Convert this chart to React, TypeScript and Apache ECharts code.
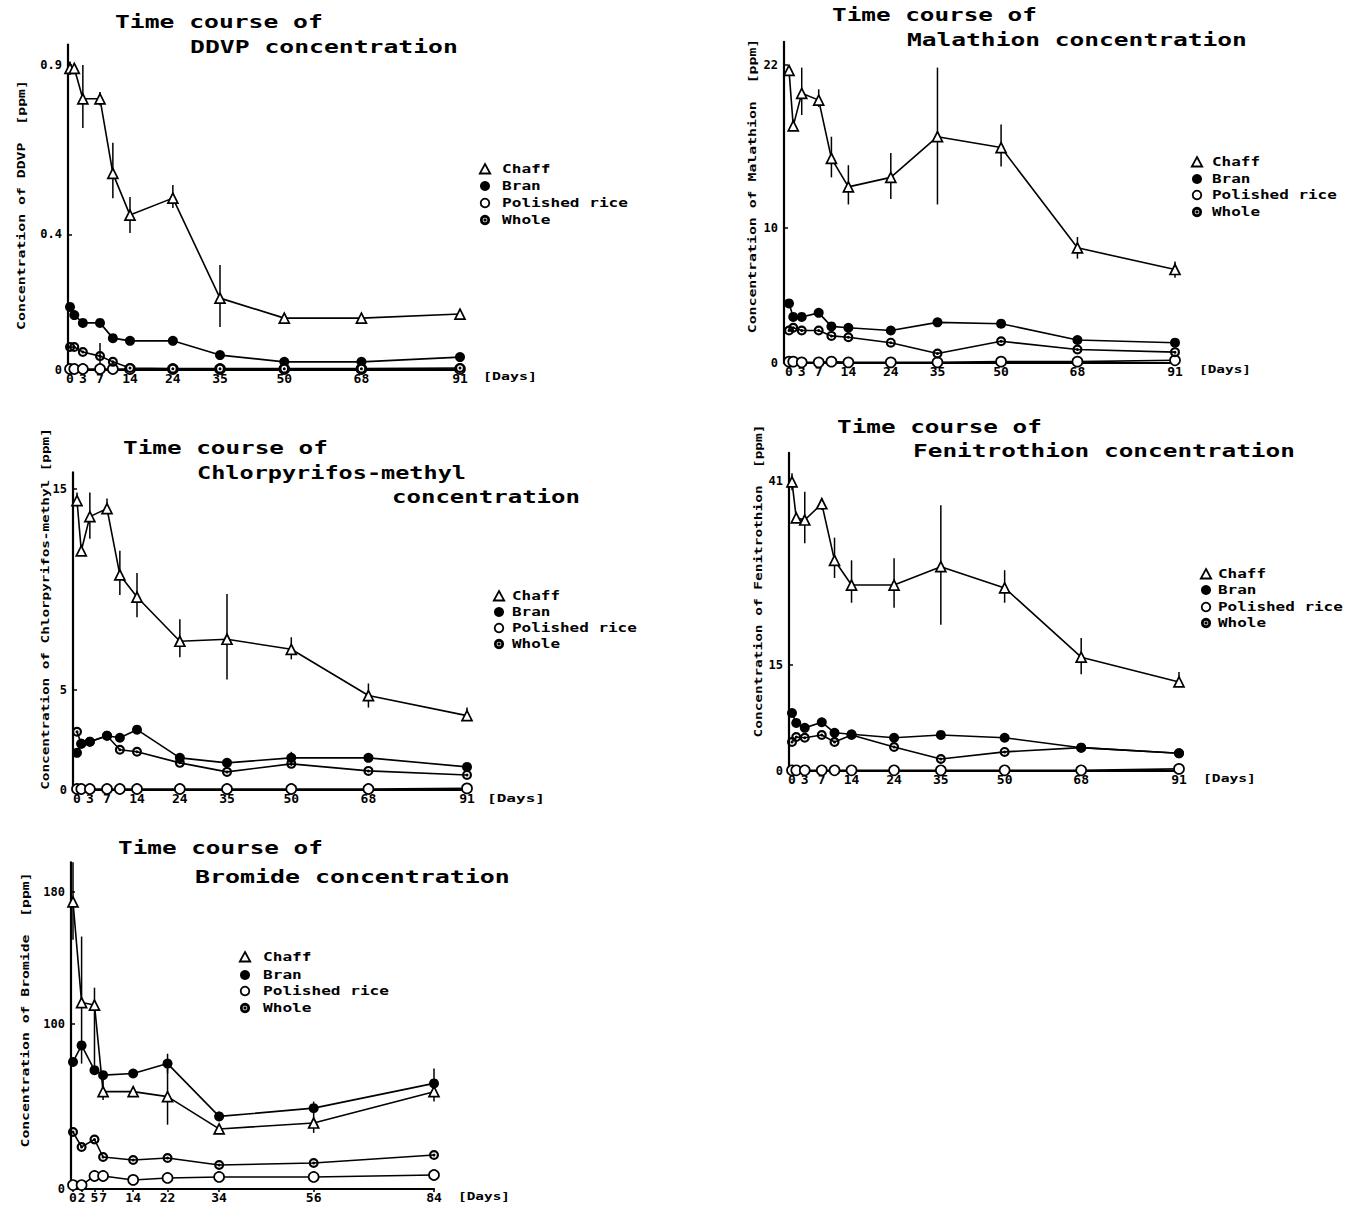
import React, { useEffect, useRef } from "react";
import * as echarts from "echarts";

// ---------------- data ----------------
const DAYS = [0, 1, 3, 7, 10, 14, 24, 35, 50, 68, 91];
const BROMIDE_DAYS = [0, 2, 5, 7, 14, 22, 34, 56, 84];
const DAY_TICKS = [0, 3, 7, 14, 24, 35, 50, 68, 91];
const BROMIDE_DAY_TICKS = [0, 2, 5, 7, 14, 22, 34, 56, 84];

// DDVP
const ddvpChaff = [0.89, 0.89, 0.8, 0.8, 0.58, 0.457, 0.507, 0.212, 0.153, 0.153, 0.165];
const ddvpBran = [0.186, 0.162, 0.139, 0.139, 0.094, 0.086, 0.086, 0.044, 0.024, 0.024, 0.038];
const ddvpPolished = [0.003, 0.003, 0.003, 0.003, 0.003, 0.003, 0.003, 0.003, 0.003, 0.003, 0.003];
const ddvpWhole = [0.068, 0.068, 0.053, 0.041, 0.024, 0.006, 0.004, 0.004, 0.004, 0.004, 0.006];
const ddvpChaffErr = [[0, 0.87, 0.91], [3, 0.714, 0.9], [7, 0.78, 0.82], [10, 0.507, 0.67], [14, 0.404, 0.51], [24, 0.478, 0.546], [35, 0.127, 0.31]];
const ddvpWholeErr = [[7, 0.006, 0.08]];
const ddvpYTicks = [0, 0.4, 0.9];

// Malathion
const malChaff = [21.6, 17.5, 19.9, 19.4, 15.1, 13.0, 13.7, 16.7, 15.9, 8.5, 6.9];
const malBran = [4.4, 3.4, 3.4, 3.7, 2.7, 2.6, 2.4, 3.0, 2.9, 1.7, 1.5];
const malPolished = [0.1, 0.1, 0.05, 0.05, 0.1, 0.05, 0.05, 0.05, 0.1, 0.1, 0.2];
const malWhole = [2.4, 2.6, 2.4, 2.4, 2.0, 1.9, 1.5, 0.7, 1.6, 1.0, 0.8];
const malChaffErr = [[3, 18.3, 21.8], [7, 18.9, 20.2], [10, 13.7, 16.7], [14, 11.7, 14.6], [24, 12.1, 15.5], [35, 11.7, 21.8], [50, 14.5, 17.6], [68, 7.7, 9.3], [91, 6.3, 7.5]];
const malYTicks = [0, 10, 22];

// Chlorpyrifos-methyl
const cpmChaff = [14.4, 11.9, 13.6, 14.0, 10.7, 9.6, 7.4, 7.5, 7.0, 4.7, 3.7];
const cpmBran = [1.85, 2.3, 2.4, 2.7, 2.6, 3.0, 1.6, 1.35, 1.6, 1.6, 1.15];
const cpmPolished = [0.05, 0.05, 0.05, 0.05, 0.05, 0.05, 0.05, 0.05, 0.05, 0.05, 0.08];
const cpmWhole = [2.9, 2.3, 2.4, 2.7, 2.0, 1.9, 1.35, 0.9, 1.3, 0.95, 0.75];
const cpmChaffErr = [[0, 14.1, 14.8], [3, 12.5, 14.8], [7, 13.9, 14.5], [10, 9.7, 11.9], [14, 8.6, 10.8], [24, 6.6, 8.5], [35, 5.5, 9.75], [50, 6.5, 7.6], [68, 4.1, 5.3], [91, 3.5, 4.1]];
const cpmBranErr = [[50, 1.2, 1.9]];
const cpmYTicks = [0, 5, 15];

// Fenitrothion
const fenChaff = [40.9, 35.8, 35.5, 37.8, 29.8, 26.3, 26.3, 28.9, 25.9, 16.1, 12.6];
const fenBran = [8.2, 6.8, 6.1, 6.9, 5.4, 5.2, 4.7, 5.1, 4.7, 3.3, 2.5];
const fenPolished = [0.1, 0.1, 0.1, 0.1, 0.1, 0.1, 0.1, 0.1, 0.1, 0.1, 0.3];
const fenWhole = [4.1, 4.8, 4.7, 5.1, 4.1, 5.1, 3.4, 1.7, 2.7, 3.3, 2.5];
const fenChaffErr = [[0, 39.7, 42.1], [3, 32.2, 39.5], [7, 36.9, 38.6], [10, 27.3, 33.0], [14, 23.8, 29.8], [24, 23.1, 30.1], [35, 20.7, 37.6], [50, 23.8, 28.4], [68, 13.7, 18.8], [91, 11.9, 14.0]];
const fenYTicks = [0, 15, 41];

// Bromide
const brChaff = [174, 113, 111.5, 59, 59, 56, 36.4, 40, 59];
const brBran = [77, 87, 72, 69, 70, 76, 44, 49, 64];
const brPolished = [2.4, 2.4, 7.9, 7.9, 5.5, 6.7, 7.3, 7.3, 8.5];
const brWhole = [34.5, 25.5, 30, 19.4, 17.6, 18.8, 14.5, 15.8, 20.6];
const brChaffErr = [[0, 151, 198], [2, 76, 153], [5, 70, 122], [7, 54, 71], [22, 39, 78], [56, 34, 53], [84, 53, 73]];
const brBranErr = [[22, 70, 82], [34, 42, 47]];
const brYTicks = [0, 100, 180];

const LEGEND_NAMES = ["Chaff", "Bran", "Polished rice", "Whole"];

// ---------------- layout ----------------
const MONO = '"DejaVu Sans Mono", monospace';
const WHOLE_SYMBOL =
  "path://M0,-10A10,10,0,1,1,0,10A10,10,0,1,1,0,-10ZM0,-5.6A5.6,5.6,0,1,0,0,5.6A5.6,5.6,0,1,0,0,-5.6ZM0,-3A3,3,0,1,1,0,3A3,3,0,1,1,0,-3Z";

const PANELS = [
  {
    axisX: 68, day0X: 70, lastX: 460, zeroY: 370, slope: 339, yMax: 0.96,
    days: DAYS, xTicks: DAY_TICKS, yTicks: ddvpYTicks,
    values: [ddvpChaff, ddvpBran, ddvpPolished, ddvpWhole],
    errors: [ddvpChaffErr, [], [], ddvpWholeErr],
    legend: { ix: 485, tx: 502, ys: [169, 186, 203, 220], cw: 9.7 },
    titles: [["Time course of", 115, 22, 323], ["DDVP concentration", 190, 47, 458]],
    yName: ["Concentration of DDVP  [ppm]", 21, 205, 250],
    daysLabel: [483, 376, 537],
  },
  {
    axisX: 784, day0X: 789, lastX: 1175, zeroY: 363, slope: 13.55, yMax: 23.7,
    days: DAYS, xTicks: DAY_TICKS, yTicks: malYTicks,
    values: [malChaff, malBran, malPolished, malWhole],
    errors: [malChaffErr, [], [], []],
    legend: { ix: 1197, tx: 1212, ys: [162, 179, 195, 212], cw: 9.6 },
    titles: [["Time course of", 832, 15, 1037], ["Malathion concentration", 907, 40, 1247]],
    yName: ["Concentration of Malathion  [ppm]", 752, 186, 295],
    daysLabel: [1199, 369, 1251],
  },
  {
    axisX: 73, day0X: 77, lastX: 467, zeroY: 790, slope: 20.1, yMax: 15.8,
    days: DAYS, xTicks: DAY_TICKS, yTicks: cpmYTicks,
    values: [cpmChaff, cpmBran, cpmPolished, cpmWhole],
    errors: [cpmChaffErr, cpmBranErr, [], []],
    legend: { ix: 499, tx: 512, ys: [596, 612, 628, 644], cw: 9.6 },
    titles: [["Time course of", 123, 448, 328], ["Chlorpyrifos-methyl", 197, 473, 466], ["concentration", 392, 497, 580]],
    yName: ["Concentration of Chlorpyrifos-methyl [ppm]", 45, 609, 362],
    daysLabel: [487, 798, 545],
  },
  {
    axisX: 789, day0X: 792, lastX: 1179, zeroY: 771, slope: 7.07, yMax: 45,
    days: DAYS, xTicks: DAY_TICKS, yTicks: fenYTicks,
    values: [fenChaff, fenBran, fenPolished, fenWhole],
    errors: [fenChaffErr, [], [], []],
    legend: { ix: 1206, tx: 1218, ys: [574, 590, 607, 623], cw: 9.6 },
    titles: [["Time course of", 837, 427, 1042], ["Fenitrothion concentration", 913, 451, 1295]],
    yName: ["Concentration of Fenitrothion  [ppm]", 758, 581, 313],
    daysLabel: [1203, 778, 1256],
  },
  {
    axisX: 71, day0X: 73, lastX: 434, zeroY: 1189, slope: 1.65, yMax: 198,
    days: BROMIDE_DAYS, xTicks: BROMIDE_DAY_TICKS, yTicks: brYTicks,
    values: [brChaff, brBran, brPolished, brWhole],
    errors: [brChaffErr, brBranErr, [], []],
    legend: { ix: 245, tx: 263, ys: [957, 975, 991, 1008], cw: 9.7 },
    titles: [["Time course of", 118, 848, 323], ["Bromide concentration", 195, 877, 510]],
    yName: ["Concentration of Bromide  [ppm]", 25, 1010, 275],
    daysLabel: [458, 1196, 510],
  },
];

const SERIES_STYLE = [
  { symbol: "triangle", symbolSize: 10, itemStyle: { color: "#fff", borderColor: "#000", borderWidth: 1.7 } },
  { symbol: "circle", symbolSize: 10, itemStyle: { color: "#000", borderColor: "#000", borderWidth: 0 } },
  { symbol: "circle", symbolSize: 10, itemStyle: { color: "#fff", borderColor: "#000", borderWidth: 1.7 } },
  { symbol: WHOLE_SYMBOL, symbolSize: 10, itemStyle: { color: "#000", borderWidth: 0 } },
];

function stretchedText(text: string, x: number, y: number, right: number, fontSize: number, align: string) {
  const natural = text.length * 0.602 * fontSize;
  return {
    type: "text",
    x,
    y,
    scaleX: (right - x) / natural,
    silent: true,
    style: {
      text,
      font: `bold ${fontSize}px ${MONO}`,
      fill: "#000",
      align,
      verticalAlign: "middle",
    },
  };
}

function legendIcon(kind: number, x: number, y: number) {
  if (kind === 0) {
    return {
      type: "polygon",
      silent: true,
      shape: { points: [[x, y - 5], [x + 5.2, y + 4.5], [x - 5.2, y + 4.5]] },
      style: { fill: "#fff", stroke: "#000", lineWidth: 1.8 },
    };
  }
  if (kind === 1) {
    return { type: "circle", silent: true, shape: { cx: x, cy: y, r: 5 }, style: { fill: "#000" } };
  }
  if (kind === 2) {
    return {
      type: "circle",
      silent: true,
      shape: { cx: x, cy: y, r: 4.3 },
      style: { fill: "#fff", stroke: "#000", lineWidth: 1.8 },
    };
  }
  return {
    type: "group",
    silent: true,
    children: [
      { type: "circle", shape: { cx: x, cy: y, r: 3.7 }, style: { fill: "#fff", stroke: "#000", lineWidth: 2.8 } },
      { type: "circle", shape: { cx: x, cy: y, r: 1.6 }, style: { fill: "#000" } },
    ],
  };
}

function buildOption() {
  const grid: any[] = [];
  const xAxis: any[] = [];
  const yAxis: any[] = [];
  const series: any[] = [];
  const graphic: any[] = [];

  PANELS.forEach((p, i) => {
    const lastDay = p.days[p.days.length - 1];
    const kx = (p.lastX - p.day0X) / lastDay;
    const xMin = -(p.day0X - p.axisX) / kx;
    grid.push({
      left: p.axisX,
      top: p.zeroY - p.yMax * p.slope,
      width: p.lastX - p.axisX,
      height: p.yMax * p.slope,
      containLabel: false,
      outerBoundsMode: "none",
    });
    xAxis.push({
      type: "value",
      gridIndex: i,
      min: xMin,
      max: lastDay,
      splitLine: { show: false },
      axisLine: { onZero: false, lineStyle: { color: "#000", width: 2.2 } },
      axisTick: { show: true, length: 3, customValues: p.xTicks, lineStyle: { color: "#000", width: 1.5 } },
      axisLabel: {
        customValues: p.xTicks,
        margin: 2,
        color: "#000",
        fontFamily: MONO,
        fontWeight: "bold",
        fontSize: 13,
      },
    });
    yAxis.push({
      type: "value",
      gridIndex: i,
      min: 0,
      max: p.yMax,
      splitLine: { show: false },
      axisLine: { onZero: false, lineStyle: { color: "#000", width: 2.2 } },
      axisTick: { show: true, inside: true, length: 4, customValues: p.yTicks, lineStyle: { color: "#000", width: 1.5 } },
      axisLabel: {
        customValues: p.yTicks,
        margin: 6,
        color: "#000",
        fontFamily: MONO,
        fontWeight: "bold",
        fontSize: 12,
      },
    });

    LEGEND_NAMES.forEach((name, s) => {
      const vals = p.values[s];
      series.push({
        type: "line",
        name,
        xAxisIndex: i,
        yAxisIndex: i,
        data: p.days.map((d, j) => [d, vals[j]]),
        symbol: SERIES_STYLE[s].symbol,
        symbolSize: SERIES_STYLE[s].symbolSize,
        itemStyle: SERIES_STYLE[s].itemStyle,
        lineStyle: { color: "#000", width: 1.6 },
        showAllSymbol: true,
        clip: false,
        z: 3,
        silent: true,
      });
      const err = p.errors[s];
      if (err.length) {
        series.push({
          type: "custom",
          name: name + " range",
          xAxisIndex: i,
          yAxisIndex: i,
          data: err,
          encode: { x: 0, y: [1, 2] },
          silent: true,
          z: 2,
          renderItem: (params: any, api: any) => {
            const x = api.value(0);
            const a = api.coord([x, api.value(1)]);
            const b = api.coord([x, api.value(2)]);
            return {
              type: "line",
              shape: { x1: a[0], y1: a[1], x2: b[0], y2: b[1] },
              style: { stroke: "#000", lineWidth: 1.5 },
            };
          },
        });
      }
    });

    // legend (symbols + labels)
    const lg = p.legend;
    LEGEND_NAMES.forEach((name, s) => {
      const y = lg.ys[s];
      graphic.push(legendIcon(s, lg.ix, y));
      graphic.push(stretchedText(name, lg.tx, y, lg.tx + name.length * lg.cw, 12, "left"));
    });

    p.titles.forEach((t: any) => {
      graphic.push(stretchedText(t[0], t[1], t[2], t[3], 18, "left"));
    });

    const [yText, cx, cy, len] = p.yName as any;
    const fs = 11;
    graphic.push({
      type: "text",
      x: cx,
      y: cy,
      rotation: Math.PI / 2,
      scaleX: len / (yText.length * 0.602 * fs),
      silent: true,
      style: {
        text: yText,
        font: `bold ${fs}px ${MONO}`,
        fill: "#000",
        align: "center",
        verticalAlign: "middle",
      },
    });

    graphic.push(stretchedText("[Days]", p.daysLabel[0], p.daysLabel[1], p.daysLabel[2], 11, "left"));
  });

  return {
    animation: false,
    backgroundColor: "#fff",
    grid,
    xAxis,
    yAxis,
    series,
    graphic,
  };
}

export default function App() {
  const ref = useRef<HTMLDivElement>(null);
  useEffect(() => {
    const chart = echarts.init(ref.current as HTMLDivElement, null, { renderer: "svg" });
    chart.setOption(buildOption() as any);
    return () => chart.dispose();
  }, []);
  return (
    <div
      ref={ref}
      style={{ position: "absolute", left: 0, top: 0, width: 1346, height: 1205, background: "#fff" }}
    />
  );
}
